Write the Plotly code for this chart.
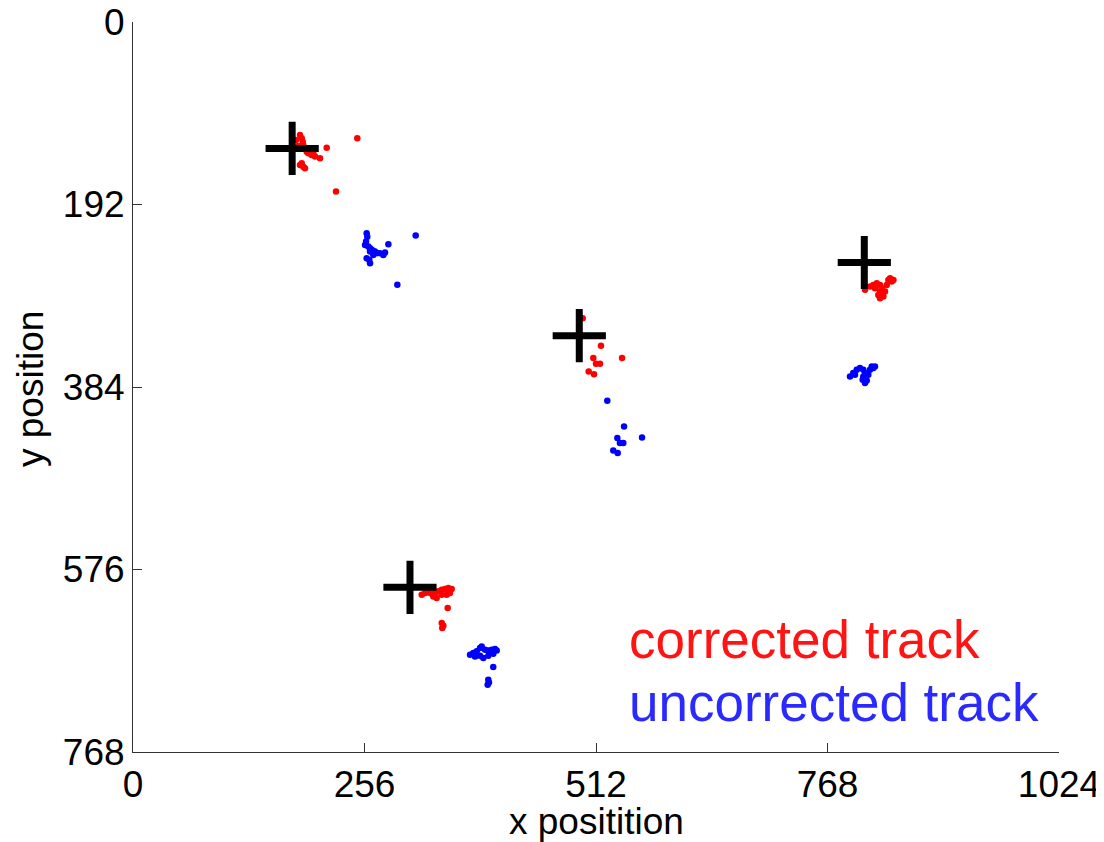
import plotly.graph_objects as go

# ---- data ----
target_x = [176, 493.5, 808.7, 306.3]
target_y = [133, 330, 253, 594.8]

corrected_x = [184.7, 186.6, 187.7, 188.3, 190.2, 192.1, 193.9, 197.6, 201.3, 206.8, 195.7, 199.4,
               186.6, 188.3, 190.2, 184.7, 214.2, 248.0, 224.5, 180.2, 182.5,
               497.3, 517.5, 509.0, 512.0, 516.4, 503.9, 509.8, 540.8,
               809.5, 815.0, 818.7, 822.5, 826.1, 828.0, 826.1, 824.2, 826.1, 829.8, 831.6, 833.5,
               835.3, 837.2, 839.0, 840.9, 820.5,
               319.3, 322.9, 326.6, 330.3, 334.0, 337.6, 341.4, 345.0, 348.7, 352.4, 350.5, 346.9,
               341.4, 335.8, 332.1, 348.0, 341.4, 342.0, 343.2]
corrected_y = [118.8, 122.3, 125.9, 129.3, 132.8, 136.4, 138.1, 139.9, 141.6, 143.3, 134.6, 138.1,
               148.6, 152.2, 153.8, 150.4, 132.2, 122.3, 178.4, 124.1, 130.4,
               311.6, 340.7, 353.6, 359.6, 359.6, 367.7, 370.5, 353.6,
               281.8, 278.3, 276.6, 274.8, 276.6, 280.0, 283.6, 287.1, 290.5, 288.9, 283.6, 276.6,
               271.3, 269.5, 273.1, 271.3, 280.0,
               602.5, 600.7, 600.1, 601.5, 600.7, 599.0, 597.3, 596.5, 595.5, 596.5, 600.7, 602.5,
               602.5, 606.0, 604.3, 616.5, 632.3, 637.5, 635.1]

uncorrected_x = [258.4, 259.1, 257.7, 256.6, 260.2, 262.1, 264.0, 265.7, 267.6, 270.2, 273.1, 276.8,
                 278.7, 262.1, 265.7, 258.4, 261.3, 262.1, 282.4, 312.6, 292.3,
                 524.5, 543.0, 535.6, 538.5, 542.2, 562.9, 531.1, 536.0,
                 792.9, 796.5, 800.3, 803.9, 807.6, 809.5, 807.6, 806.9, 809.5, 811.4, 813.1, 815.0,
                 816.9, 818.7, 820.5, 798.4,
                 372.7, 376.3, 380.1, 383.7, 385.6, 389.3, 392.9, 396.7, 400.3, 402.2, 398.4, 392.9,
                 387.4, 383.7, 378.2, 398.4, 392.9, 392.2, 393.6]
uncorrected_y = [222.2, 225.8, 231.0, 234.5, 236.3, 238.0, 239.7, 240.8, 241.5, 243.2, 243.2, 245.0,
                 242.6, 241.5, 245.0, 248.5, 250.3, 253.8, 233.8, 224.7, 276.5,
                 398.5, 425.6, 437.7, 443.0, 443.0, 437.1, 450.8, 453.5,
                 373.0, 369.4, 365.9, 364.1, 365.9, 369.4, 373.0, 376.4, 379.9, 377.2, 371.2, 365.9,
                 362.4, 364.1, 362.4, 371.2,
                 665.6, 663.8, 662.1, 658.6, 656.9, 660.4, 661.1, 660.4, 659.7, 661.1, 664.6, 666.7,
                 669.1, 666.7, 667.4, 678.7, 691.9, 697.2, 694.8]

x_ticks = [0, 256, 512, 768, 1024]
y_ticks = [0, 192, 384, 576, 768]

FONT = "Liberation Sans, Arial, Helvetica, sans-serif"

fig = go.Figure()
fig.add_trace(go.Scatter(x=corrected_x, y=corrected_y, mode="markers",
                         marker=dict(color="#ff0000", size=6.5, line=dict(width=0)),
                         showlegend=False, hoverinfo="skip"))
fig.add_trace(go.Scatter(x=uncorrected_x, y=uncorrected_y, mode="markers",
                         marker=dict(color="#0000ff", size=6.5, line=dict(width=0)),
                         showlegend=False, hoverinfo="skip"))
fig.add_trace(go.Scatter(x=target_x, y=target_y, mode="markers",
                         marker=dict(symbol="cross-thin", size=38, color="black",
                                     line=dict(width=7, color="black")),
                         showlegend=False, hoverinfo="skip"))

fig.add_annotation(x=546, y=650, xref="x", yref="y", text="corrected track",
                   showarrow=False, xanchor="left", yanchor="middle",
                   font=dict(family=FONT, size=53, color="#ff1414"))
fig.add_annotation(x=546, y=716, xref="x", yref="y", text="uncorrected track",
                   showarrow=False, xanchor="left", yanchor="middle",
                   font=dict(family=FONT, size=53, color="#2a2aff"))

# axis titles
fig.add_annotation(x=0.5, y=0, xref="paper", yref="paper", text="x positition",
                   showarrow=False, xanchor="center", yanchor="middle", yshift=-69,
                   font=dict(family=FONT, size=37, color="black"))
fig.add_annotation(x=0, y=0.5, xref="paper", yref="paper", text="y position", textangle=-90,
                   showarrow=False, xanchor="center", yanchor="middle", xshift=-103, yshift=-2,
                   font=dict(family=FONT, size=37, color="black"))

fig.update_xaxes(range=[0, 1024], tickvals=x_ticks, ticktext=[str(v) for v in x_ticks],
                 showgrid=False, zeroline=False, showline=True, linecolor="#333333", linewidth=1,
                 ticks="inside", ticklen=9, tickwidth=1, tickcolor="#333333",
                 ticklabeloverflow="allow",
                 tickfont=dict(family=FONT, size=37, color="black"))
fig.update_yaxes(range=[768, 0], tickvals=y_ticks, ticktext=[str(v) for v in y_ticks],
                 showgrid=False, zeroline=False, showline=True, linecolor="#333333", linewidth=1,
                 ticks="inside", ticklen=9, tickwidth=1, tickcolor="#333333",
                 ticklabeloverflow="allow",
                 tickfont=dict(family=FONT, size=37, color="black"))

fig.update_layout(width=1096, height=834, margin=dict(l=125, r=45, t=14, b=90, autoexpand=False),
                  paper_bgcolor="white", plot_bgcolor="white")

fig.write_html("out.html")
